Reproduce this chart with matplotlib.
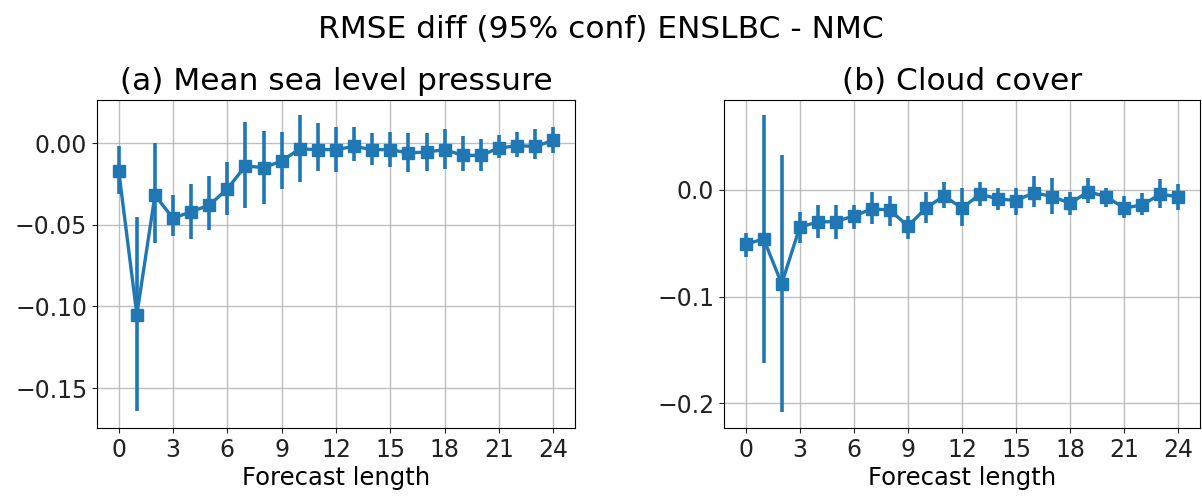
import matplotlib
matplotlib.use("Agg")
import matplotlib.pyplot as plt
import numpy as np

lead = list(range(25))

# (a) Mean sea level pressure
mslp_mean = [-0.017, -0.105, -0.032, -0.046, -0.042, -0.038, -0.028, -0.014, -0.015, -0.011,
             -0.0035, -0.004, -0.004, -0.002, -0.004, -0.004, -0.006, -0.0055, -0.004, -0.0075,
             -0.0075, -0.003, -0.0016, -0.002, 0.0016]
mslp_lo = [-0.031, -0.164, -0.061, -0.057, -0.0585, -0.053, -0.044, -0.0396, -0.0372, -0.028,
           -0.024, -0.017, -0.018, -0.011, -0.0136, -0.0146, -0.018, -0.017, -0.016, -0.017,
           -0.017, -0.009, -0.0087, -0.010, -0.006]
mslp_hi = [-0.002, -0.045, 0.000, -0.032, -0.025, -0.020, -0.0116, 0.0132, 0.0075, 0.0067,
           0.0173, 0.0122, 0.0098, 0.0098, 0.0061, 0.0067, 0.0061, 0.0061, 0.0085, 0.0041,
           0.0026, 0.0051, 0.0065, 0.0085, 0.0098]

# (b) Cloud cover
cc_mean = [-0.051, -0.046, -0.088, -0.035, -0.030, -0.0297, -0.0244, -0.0178, -0.0188, -0.034,
           -0.017, -0.0056, -0.017, -0.004, -0.0084, -0.010, -0.0025, -0.0063, -0.0125, -0.0016,
           -0.0063, -0.017, -0.014, -0.004, -0.0063]
cc_lo = [-0.0625, -0.162, -0.208, -0.050, -0.0447, -0.046, -0.037, -0.032, -0.034, -0.046,
         -0.031, -0.0166, -0.034, -0.015, -0.0188, -0.0234, -0.016, -0.0228, -0.0234, -0.0125,
         -0.0156, -0.026, -0.0234, -0.0166, -0.0188]
cc_hi = [-0.0406, 0.0703, 0.0328, -0.021, -0.014, -0.014, -0.014, -0.0016, -0.0056, -0.024,
         -0.0016, 0.0078, 0.002, 0.0078, 0.002, 0.002, 0.013, 0.011, -0.002, 0.011,
         0.002, -0.0056, -0.0025, 0.010, 0.0053]

titles = ["(a) Mean sea level pressure", "(b) Cloud cover"]
suptitle = "RMSE diff (95% conf) ENSLBC - NMC"
xlabel = "Forecast length"
xticks = list(range(0, 25, 3))

fig = plt.figure(figsize=(12.02, 4.96), dpi=100)
ax1 = fig.add_axes([97/1202, 1-428/496, (575-97)/1202, (428-100)/496])
ax2 = fig.add_axes([724/1202, 1-428/496, (1200-724)/1202, (428-100)/496])

color = "#1f77b4"
for ax, m, lo, hi, t in [(ax1, mslp_mean, mslp_lo, mslp_hi, titles[0]),
                         (ax2, cc_mean, cc_lo, cc_hi, titles[1])]:
    m = np.array(m); lo = np.array(lo); hi = np.array(hi)
    yerr = np.vstack([m - lo, hi - m])
    ax.errorbar(lead, m, yerr=yerr, fmt='-s', color=color, lw=2.4, elinewidth=2.6,
                markersize=8, capsize=0)
    ax.set_xticks(xticks)
    ax.grid(True, color="#b0b0b0", lw=1.0, alpha=0.8)
    ax.set_axisbelow(True)
    ax.set_title(t, fontsize=22.5, pad=7)
    ax.set_xlabel(xlabel, fontsize=17.5, labelpad=3)
    ax.tick_params(labelsize=17, colors="#222222", labelcolor="#222222")

ax1.set_ylim(-0.1745, 0.0264)
ax1.set_yticks([0.0, -0.05, -0.10, -0.15])
ax1.set_yticklabels(["0.00", "\u22120.05", "\u22120.10", "\u22120.15"])
ax2.set_ylim(-0.2234, 0.0844)
ax2.set_yticks([0.0, -0.1, -0.2])

fig.suptitle(suptitle, fontsize=22.5, y=0.94, va='center')
fig.savefig("out.png", dpi=100)
